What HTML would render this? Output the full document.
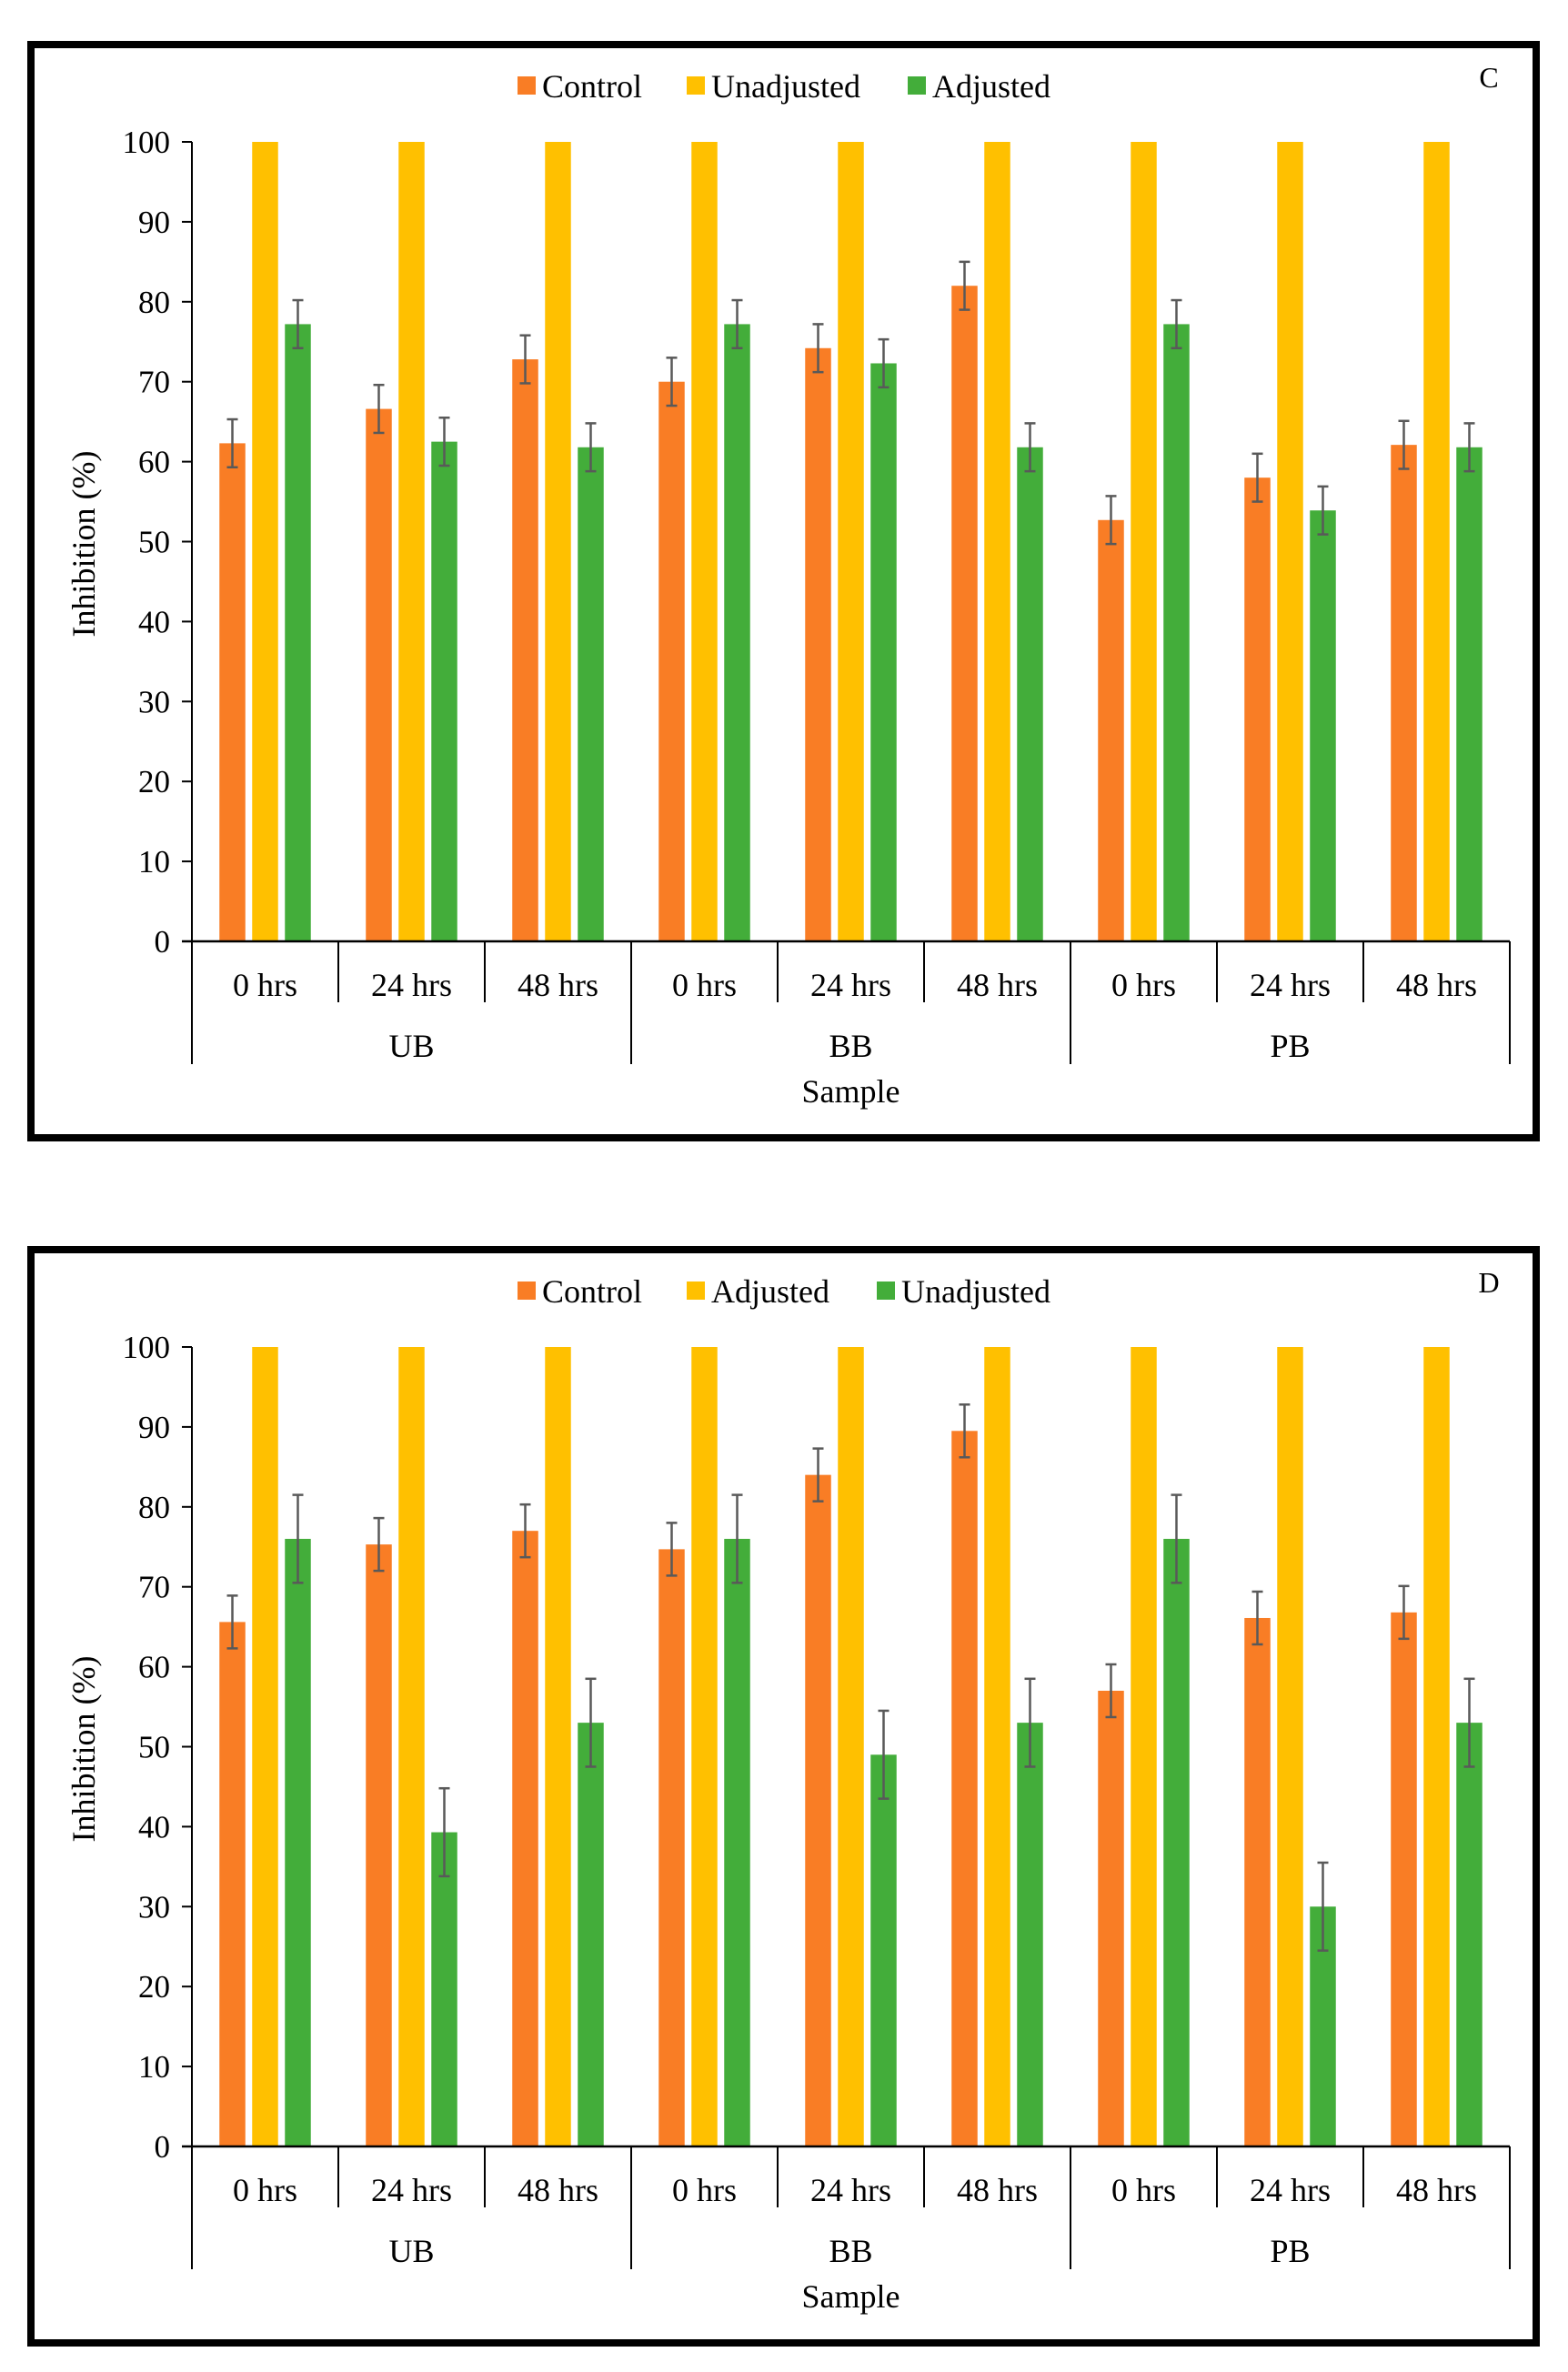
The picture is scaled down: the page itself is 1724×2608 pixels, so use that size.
<!DOCTYPE html>
<html><head><meta charset="utf-8"><style>
html,body{margin:0;padding:0;background:#fff;}
svg{display:block;font-family:"Liberation Serif",serif;}
svg text{font-family:"Liberation Serif",serif;fill:#000;}
</style></head><body>
<svg id="fig" width="1724" height="2608" viewBox="0 0 1724 2608" xmlns="http://www.w3.org/2000/svg"></svg>
<script>
const categories = ["0 hrs","24 hrs","48 hrs","0 hrs","24 hrs","48 hrs","0 hrs","24 hrs","48 hrs"];
const groups = ["UB","BB","PB"];
const yTicks = [0,10,20,30,40,50,60,70,80,90,100];
// Panel C
const cControl = [62.3,66.6,72.8,70.0,74.2,82.0,52.7,58.0,62.1];
const cControlErr = [3,3,3,3,3,3,3,3,3];
const cUnadjusted = [100,100,100,100,100,100,100,100,100];
const cUnadjustedErr = [0,0,0,0,0,0,0,0,0];
const cAdjusted = [77.2,62.5,61.8,77.2,72.3,61.8,77.2,53.9,61.8];
const cAdjustedErr = [3,3,3,3,3,3,3,3,3];
// Panel D
const dControl = [65.6,75.3,77.0,74.7,84.0,89.5,57.0,66.1,66.8];
const dControlErr = [3.3,3.3,3.3,3.3,3.3,3.3,3.3,3.3,3.3];
const dAdjusted = [100,100,100,100,100,100,100,100,100];
const dAdjustedErr = [0,0,0,0,0,0,0,0,0];
const dUnadjusted = [76.0,39.3,53.0,76.0,49.0,53.0,76.0,30.0,53.0];
const dUnadjustedErr = [5.5,5.5,5.5,5.5,5.5,5.5,5.5,5.5,5.5];

const NS="http://www.w3.org/2000/svg";
const svg=document.getElementById('fig');
const COLORS=["#F97D25","#FFC000","#43AD3A"];
const FF='"Liberation Serif", serif';
function mk(tag,attrs,parent,txt){const e=document.createElementNS(NS,tag);for(const k in attrs)e.setAttribute(k,attrs[k]);if(txt!==undefined){e.textContent=txt;e.setAttribute('font-family',FF);}(parent||svg).appendChild(e);return e;}

function panel(off,letter,names,series,errs,pname,lx){
  const g=mk('g',{},svg);
  
  
  const fr=mk('rect',{x:34,y:49+off,width:1655,height:1202,fill:'#fff',stroke:'#000','stroke-width':8},g);
  
  
  const x0=211,x1=1660,yTop=156+off,yBot=1035+off;
  const cw=(x1-x0)/categories.length;
  const y=v=>yBot-(v/100)*(yBot-yTop);
  const ya=mk('line',{x1:x0,y1:yTop,x2:x0,y2:yBot,stroke:'#000','stroke-width':2},g);
  
  
  yTicks.forEach(t=>{
    mk('line',{x1:x0-11,y1:y(t),x2:x0,y2:y(t),stroke:'#000','stroke-width':2},g);
    const tl=mk('text',{x:x0-24,y:y(t)+12,'text-anchor':'end','font-size':35},g,String(t));
    
    
  });
  const yt=mk('text',{x:0,y:0,transform:`translate(104,${598+off}) rotate(-90)`,'text-anchor':'middle','font-size':36},g,'Inhibition  (%)');
  
  
  const bw=28.5,step=36;
  series.forEach((arr,si)=>{
    arr.forEach((v,i)=>{
      const cx=x0+cw*(i+0.5)+(si-1)*step;
      const r=mk('rect',{x:cx-bw/2,y:y(v),width:bw,height:yBot-y(v),fill:COLORS[si]},g);
      
      
      const e=errs[si][i];
      if(e>0){
        const eg=mk('g',{stroke:'#595959','stroke-width':2.5},g);
        
        
        mk('line',{x1:cx,y1:y(v+e),x2:cx,y2:y(v-e)},eg);
        mk('line',{x1:cx-6,y1:y(v+e),x2:cx+6,y2:y(v+e)},eg);
        mk('line',{x1:cx-6,y1:y(v-e),x2:cx+6,y2:y(v-e)},eg);
      }
    });
  });
  const xa=mk('line',{x1:x0-11,y1:yBot,x2:x1,y2:yBot,stroke:'#000','stroke-width':2.5},g);
  
  
  for(let i=0;i<=categories.length;i++){
    const xx=x0+cw*i;
    const long=(i%3===0);
    mk('line',{x1:xx,y1:yBot,x2:xx,y2:long?1170+off:1102+off,stroke:'#000','stroke-width':2},g);
  }
  categories.forEach((c,i)=>{
    const t=mk('text',{x:x0+cw*(i+0.5),y:1095+off,'text-anchor':'middle','font-size':36},g,c);
    
    
  });
  groups.forEach((gn,i)=>{
    const t=mk('text',{x:x0+cw*(i*3+1.5),y:1162+off,'text-anchor':'middle','font-size':36},g,gn);
    
    
  });
  const xt=mk('text',{x:(x0+x1)/2,y:1212+off,'text-anchor':'middle','font-size':36},g,'Sample');
  
  
  names.forEach((n,i)=>{
    const lg=mk('g',{},g);
    
    
    mk('rect',{x:lx[i],y:84+off,width:20,height:20,fill:COLORS[i]},lg);
    mk('text',{x:lx[i]+27,y:107+off,'font-size':36},lg,n);
  });
  const pl=mk('text',{x:1637,y:96+off,'text-anchor':'middle','font-size':32},g,letter);
  
  
}
panel(0,'C',["Control","Unadjusted","Adjusted"],[cControl,cUnadjusted,cAdjusted],[cControlErr,cUnadjustedErr,cAdjustedErr],'chart-c',[569,755,998]);
panel(1325,'D',["Control","Adjusted","Unadjusted"],[dControl,dAdjusted,dUnadjusted],[dControlErr,dAdjustedErr,dUnadjustedErr],'chart-d',[569,755,964]);
</script>
</body></html>
